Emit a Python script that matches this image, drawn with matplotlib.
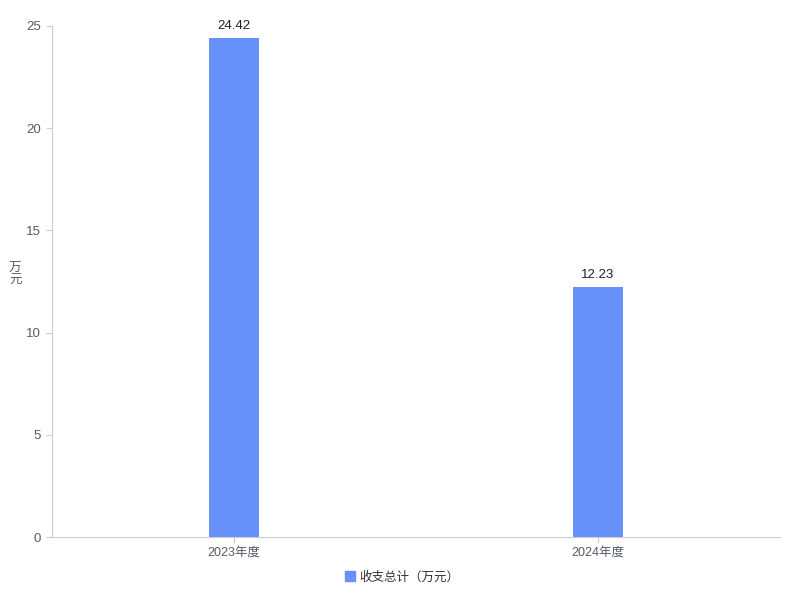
import matplotlib
matplotlib.use("Agg")
import matplotlib.pyplot as plt
from matplotlib.lines import Line2D

plt.rcParams['font.family'] = ['Liberation Sans', 'Noto Sans CJK SC', 'DejaVu Sans']

categories = ["2023年度", "2024年度"]
values = [24.42, 12.23]
series_name = "收支总计（万元）"
y_ticks = [0, 5, 10, 15, 20, 25]
y_label = "万元"

bar_color = "#6691fa"
axis_color = "#cccccc"
text_color = "#555a66"

fig = plt.figure(figsize=(8, 6), dpi=100)
ax = fig.add_axes([0.065, 0.105, 0.91, 0.8517])

x = list(range(len(categories)))
ax.bar(x, values, width=0.137, color=bar_color, zorder=2)
for xi, v in zip(x, values):
    ax.annotate(f"{v:.2f}", (xi, v), xytext=(0, 4), textcoords="offset points",
                ha="center", va="bottom", fontsize=9.5, color="#222222")

ax.set_xlim(-0.5, len(categories) - 0.5)
ax.set_ylim(0, 25)
ax.set_yticks(y_ticks)
ax.set_yticklabels([str(t) for t in y_ticks])
ax.set_xticks(x)
ax.set_xticklabels(categories)

for s in ["top", "right"]:
    ax.spines[s].set_visible(False)
ax.spines["left"].set_color(axis_color)
ax.spines["bottom"].set_color(axis_color)
ax.tick_params(axis="both", colors=axis_color, labelcolor=text_color, labelsize=9.5, length=4)
ax.tick_params(axis="x", labelsize=9, pad=3)
ax.tick_params(axis="y", pad=4)

fig.text(0.019, 0.5417, "万\n元", ha="center", va="center", fontsize=9, color=text_color,
         linespacing=1.0)

handle = Line2D([], [], marker="s", linestyle="none", markersize=6.5, color=bar_color)
fig.legend([handle], [series_name], loc="center", bbox_to_anchor=(0.5, 0.038), frameon=False,
           fontsize=9, handletextpad=0.0, handlelength=1.5, labelcolor="#333333")

fig.savefig("out.png", dpi=100)
